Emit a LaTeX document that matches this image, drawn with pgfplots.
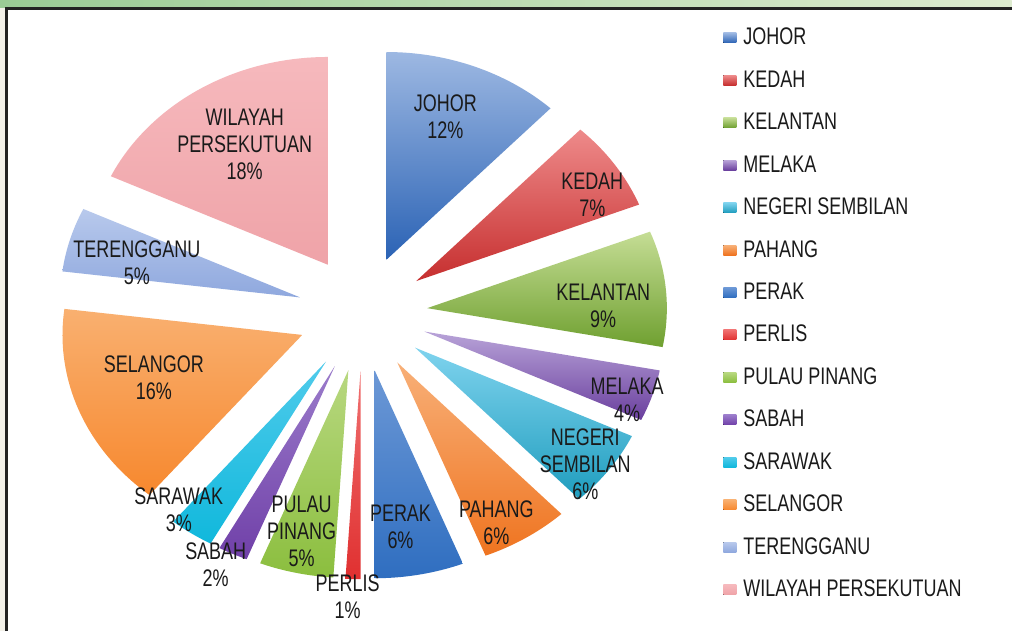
\documentclass[border=0pt]{standalone}
\usepackage{fontspec}
\setmainfont{Liberation Sans}[FakeStretch=0.75]
\usepackage{pgfplots}
\pgfplotsset{compat=1.18}
\definecolor{txt}{HTML}{1A1A1A}
\definecolor{frame}{HTML}{222222}
\definecolor{beige}{HTML}{F3F1E9}
\definecolor{gA}{HTML}{9ACB95}
\definecolor{gB}{HTML}{DDEBCF}
\definecolor{t1}{HTML}{9DB8E2}\definecolor{b1}{HTML}{2B63B5}
\definecolor{t2}{HTML}{EE8A8A}\definecolor{b2}{HTML}{C62F2F}
\definecolor{t3}{HTML}{C5DD95}\definecolor{b3}{HTML}{6FA030}
\definecolor{t4}{HTML}{B8A3D8}\definecolor{b4}{HTML}{6A3F9E}
\definecolor{t5}{HTML}{7FD3EE}\definecolor{b5}{HTML}{1F9DBE}
\definecolor{t6}{HTML}{F8B078}\definecolor{b6}{HTML}{EF7420}
\definecolor{t7}{HTML}{6C98D6}\definecolor{b7}{HTML}{2F6EC0}
\definecolor{t8}{HTML}{F07070}\definecolor{b8}{HTML}{E03030}
\definecolor{t9}{HTML}{B8D880}\definecolor{b9}{HTML}{8BBE3E}
\definecolor{t10}{HTML}{9B7CCB}\definecolor{b10}{HTML}{7040A8}
\definecolor{t11}{HTML}{50CBEB}\definecolor{b11}{HTML}{10B8DC}
\definecolor{t12}{HTML}{F9B070}\definecolor{b12}{HTML}{F7882E}
\definecolor{t13}{HTML}{B8C9EC}\definecolor{b13}{HTML}{8FA8DE}
\definecolor{t14}{HTML}{F6B9BD}\definecolor{b14}{HTML}{EFA3A8}
% slice: start%, end%, top colour, bottom colour
\newcommand{\slice}[4]{%
  \addplot[draw=none, top color=#3, bottom color=#4, domain={90-3.6*#2}:{90-3.6*#1}, samples=40, variable=\t]
  ({363 + 65*cos(90-1.8*(#1+#2)) + 240*cos(\t)}, {318 + 58*sin(90-1.8*(#1+#2)) + 208*sin(\t)})
  -- (axis cs:{363 + 65*cos(90-1.8*(#1+#2))},{318 + 58*sin(90-1.8*(#1+#2))}) -- cycle;}
\begin{document}
\begin{tikzpicture}
\begin{axis}[
  scale only axis, width=506.5pt, height=316pt,
  xmin=0, xmax=1013, ymin=0, ymax=632,
  hide axis, clip=false,
  legend cell align=left,
  legend image code/.code={\path (0pt,0pt) (10pt,0pt); \fill[#1] (0pt,-2.5pt) rectangle (6.5pt,2.5pt);},
  legend style={at={(axis cs:724,605.5)}, anchor=north west, draw=none, fill=none, inner sep=0pt,
    row sep=10.25pt, nodes={inner sep=0pt, text height=9pt, text depth=2pt, anchor=west},
    font=\fontsize{12}{13.5}\selectfont, text=txt},
]
\fill[beige] (axis cs:0,0) rectangle (axis cs:1013,632);
\shade[left color=gA, right color=gB] (axis cs:0,624) rectangle (axis cs:1013,632);
\fill[white] (axis cs:6,0) rectangle (axis cs:1013,624);
\draw[frame, line width=1.3pt] (axis cs:6.5,0) -- (axis cs:6.5,623.5) -- (axis cs:1013,623.5);

\slice{0}{12}{t1}{b1}
\addlegendentry{JOHOR}
\slice{12}{19}{t2}{b2}
\addlegendentry{KEDAH}
\slice{19}{28}{t3}{b3}
\addlegendentry{KELANTAN}
\slice{28}{32}{t4}{b4}
\addlegendentry{MELAKA}
\slice{32}{38}{t5}{b5}
\addlegendentry{NEGERI SEMBILAN}
\slice{38}{44}{t6}{b6}
\addlegendentry{PAHANG}
\slice{44}{50}{t7}{b7}
\addlegendentry{PERAK}
\slice{50}{51}{t8}{b8}
\addlegendentry{PERLIS}
\slice{51}{56}{t9}{b9}
\addlegendentry{PULAU PINANG}
\slice{56}{58}{t10}{b10}
\addlegendentry{SABAH}
\slice{58}{61}{t11}{b11}
\addlegendentry{SARAWAK}
\slice{61}{77}{t12}{b12}
\addlegendentry{SELANGOR}
\slice{77}{82}{t13}{b13}
\addlegendentry{TERENGGANU}
\slice{82}{100}{t14}{b14}
\addlegendentry{WILAYAH PERSEKUTUAN}

\tikzset{lab/.style={font=\fontsize{12}{13.5}\selectfont, text=txt, align=center, inner sep=0pt}}
\node[lab] at (axis cs:446,515) {JOHOR\\12\%};
\node[lab] at (axis cs:593,437) {KEDAH\\7\%};
\node[lab] at (axis cs:604,326) {KELANTAN\\9\%};
\node[lab] at (axis cs:628,232) {MELAKA\\4\%};
\node[lab] at (axis cs:586,167) {NEGERI\\SEMBILAN\\6\%};
\node[lab] at (axis cs:497,109) {PAHANG\\6\%};
\node[lab] at (axis cs:401,104) {PERAK\\6\%};
\node[lab] at (axis cs:348,35) {PERLIS\\1\%};
\node[lab] at (axis cs:302,100) {PULAU\\PINANG\\5\%};
\node[lab] at (axis cs:216,67) {SABAH\\2\%};
\node[lab] at (axis cs:179,122) {SARAWAK\\3\%};
\node[lab] at (axis cs:154,254) {SELANGOR\\16\%};
\node[lab] at (axis cs:137,369) {TERENGGANU\\5\%};
\node[lab] at (axis cs:245,487) {WILAYAH\\PERSEKUTUAN\\18\%};
\end{axis}
\end{tikzpicture}
\end{document}
